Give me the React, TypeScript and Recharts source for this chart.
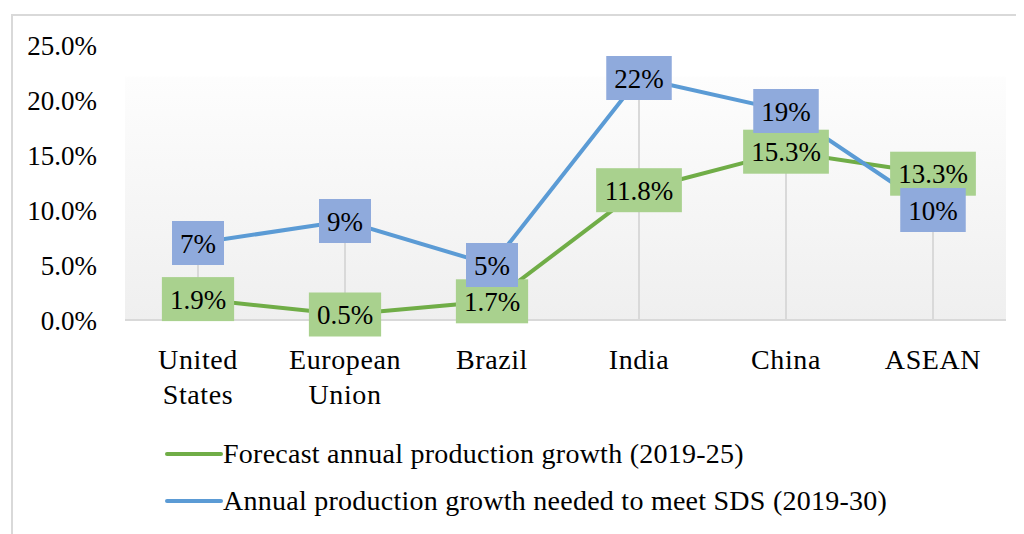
import React from "react";
import { LineChart, Line, XAxis, YAxis, CartesianGrid, ReferenceLine, LabelList, Legend } from "recharts";

const categories = ["United States", "European Union", "Brazil", "India", "China", "ASEAN"];
const forecastGrowth = [1.9, 0.5, 1.7, 11.8, 15.3, 13.3];
const neededGrowth = [7, 9, 5, 22, 19, 10];
const forecastLabels = ["1.9%", "0.5%", "1.7%", "11.8%", "15.3%", "13.3%"];
const neededLabels = ["7%", "9%", "5%", "22%", "19%", "10%"];
const yTicks = [0, 5, 10, 15, 20, 25];
const seriesNames = [
  "Forecast annual production growth (2019-25)",
  "Annual production growth needed to meet SDS (2019-30)",
];

const GREEN = "#70ad47";
const BLUE = "#5b9bd5";
const GREEN_BOX = "#a9d18e";
const BLUE_BOX = "#8faadc";
const FONT = "'Liberation Serif', 'Times New Roman', serif";
const NUM_FS = 27;
const WORD_FS = 28;

const data = categories.map((c, i) => ({
  name: c,
  forecast: forecastGrowth[i],
  needed: neededGrowth[i],
  forecastLabel: forecastLabels[i],
  neededLabel: neededLabels[i],
}));

const charW = (ch: string) => {
  if (ch === ".") return 0.25;
  if (ch === "%") return 0.833;
  return 0.5;
};
const textWidth = (s: string) => s.split("").reduce((a, c) => a + charW(c), 0) * NUM_FS;

const makeBoxLabel = (fill: string) => (props: any) => {
  const { x, y, value } = props;
  const w = textWidth(String(value)) + 16;
  const h = 44;
  return (
    <g>
      <rect x={x - w / 2} y={y - h / 2} width={w} height={h} fill={fill} />
      <text x={x} y={y} dy={NUM_FS * 0.36} textAnchor="middle" fontFamily={FONT} fontSize={NUM_FS} fill="#000">
        {value}
      </text>
    </g>
  );
};

const XTick = (props: any) => {
  const { x, y, payload } = props;
  const words = String(payload.value).split(" ");
  return (
    <text x={x} y={y} textAnchor="middle" fontFamily={FONT} fontSize={WORD_FS} letterSpacing={0.6} fill="#000">
      {words.map((w, i) => (
        <tspan key={i} x={x} dy={i === 0 ? 41 : 35}>
          {w}
        </tspan>
      ))}
    </text>
  );
};

const LegendContent = () => {
  const colors = [GREEN, BLUE];
  return (
    <div>
      {seriesNames.map((n, i) => (
        <div key={n} style={{ display: "flex", alignItems: "center", height: 47 }}>
          <svg width={58} height={10} style={{ display: "block" }}>
            <line x1={2} y1={5} x2={56} y2={5} stroke={colors[i]} strokeWidth={4} strokeLinecap="round" />
          </svg>
          <span
            style={{ fontFamily: FONT, fontSize: WORD_FS, letterSpacing: 0.25, color: "#000", whiteSpace: "nowrap" }}
          >
            {n}
          </span>
        </div>
      ))}
    </div>
  );
};

export default function App() {
  return (
    <div style={{ position: "relative", width: 1016, height: 526, overflow: "hidden", background: "#fff" }}>
      <svg width={0} height={0} style={{ position: "absolute" }}>
        <defs>
          <linearGradient id="plotBg" x1="0" y1="0" x2="0" y2="1">
            <stop offset="0" stopColor="#ffffff" />
            <stop offset="0.11" stopColor="#ffffff" />
            <stop offset="0.12" stopColor="#fdfdfd" />
            <stop offset="1" stopColor="#efefef" />
          </linearGradient>
        </defs>
      </svg>
      <div
        style={{
          position: "absolute",
          left: 3,
          top: 6,
          width: 1100,
          height: 700,
          border: "2px solid #d9d9d9",
        }}
      />
      <div style={{ position: "absolute", left: 0, top: 0 }}>
        <LineChart width={1016} height={526} data={data} margin={{ top: 37, right: 18, left: 0, bottom: 0 }}>
          <CartesianGrid horizontal={false} vertical={false} fill="url(#plotBg)" stroke="none" />
          <XAxis
            dataKey="name"
            axisLine={{ stroke: "#d9d9d9", strokeWidth: 2 }}
            tickLine={false}
            tick={<XTick />}
            height={120}
            interval={0}
            padding={{ left: 73, right: 73 }}
          />
          <YAxis
            domain={[0, 25]}
            ticks={yTicks}
            width={117}
            axisLine={false}
            tickLine={false}
            tickSize={0}
            tickMargin={28}
            tickFormatter={(v: number) => v.toFixed(1) + "%"}
            tick={{ fontFamily: FONT, fontSize: NUM_FS, fill: "#000" }}
          />
          {categories.map((c, i) => (
            <ReferenceLine
              key={c}
              segment={[
                { x: c, y: 0 },
                { x: c, y: Math.max(forecastGrowth[i], neededGrowth[i]) },
              ]}
              stroke="#d9d9d9"
              strokeWidth={2}
            />
          ))}
          <Legend
            content={<LegendContent />}
            wrapperStyle={{ position: "absolute", left: 157, top: 422, width: 900 }}
          />
          <Line
            dataKey="forecast"
            stroke={GREEN}
            strokeWidth={4}
            dot={false}
            activeDot={false}
            isAnimationActive={false}
          />
          <Line
            dataKey="needed"
            stroke={BLUE}
            strokeWidth={4}
            dot={false}
            activeDot={false}
            isAnimationActive={false}
          />
          <Line dataKey="forecast" stroke="none" dot={false} activeDot={false} legendType="none" isAnimationActive={false}>
            <LabelList dataKey="forecastLabel" content={makeBoxLabel(GREEN_BOX)} />
          </Line>
          <Line dataKey="needed" stroke="none" dot={false} activeDot={false} legendType="none" isAnimationActive={false}>
            <LabelList dataKey="neededLabel" content={makeBoxLabel(BLUE_BOX)} />
          </Line>
        </LineChart>
      </div>
    </div>
  );
}
